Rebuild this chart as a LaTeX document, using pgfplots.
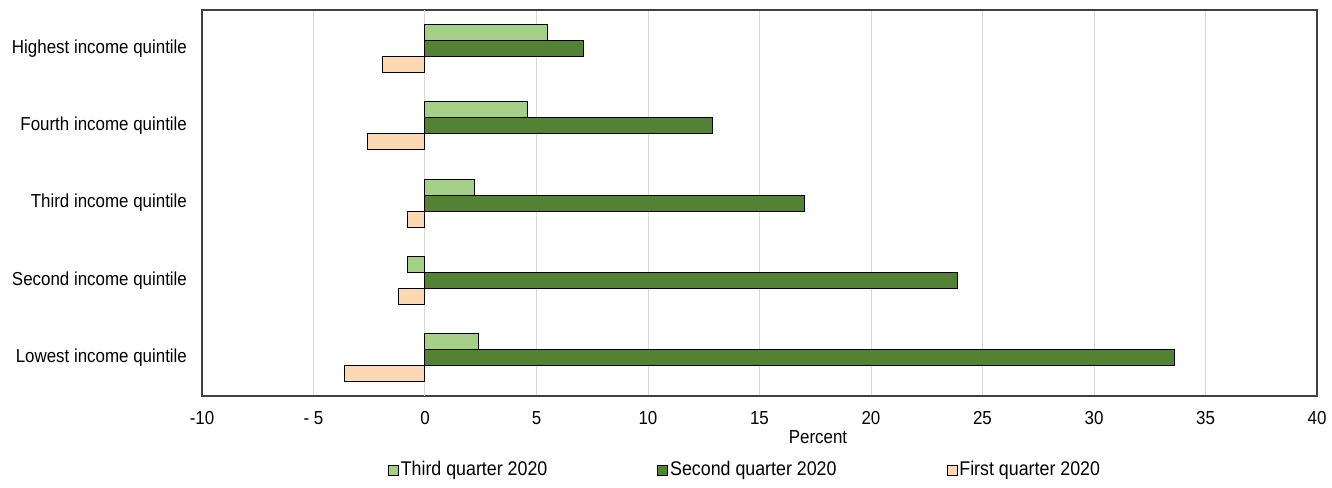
\documentclass[border=0pt]{standalone}
\usepackage{fontspec}
\setmainfont{Liberation Sans}[FakeStretch=0.9]
\usepackage{pgfplots}
\pgfplotsset{compat=1.18}
\definecolor{lg}{HTML}{A3CF86}
\definecolor{dg}{HTML}{548235}
\definecolor{pc}{HTML}{FBD9B3}
\definecolor{gridc}{HTML}{D9D9D9}
\definecolor{axc}{HTML}{404040}
\begin{document}
\begin{tikzpicture}[font=\fontsize{9.4}{11}\selectfont]
\useasboundingbox (-101pt,-45.5pt) rectangle (565pt,198pt);
\begin{axis}[
  at={(0,0)}, anchor=south west, scale only axis,
  width=557.5pt, height=193pt,
  xbar, bar width=8pt,
  xmin=-10, xmax=40, ymin=0.5, ymax=5.5,
  xtick={-10,-5,...,40},
  xticklabels={-10,- 5,0,5,10,15,20,25,30,35,40},
  ytick={1,2,3,4,5},
  yticklabels={Lowest income quintile,Second income quintile,Third income quintile,Fourth income quintile,Highest income quintile},
  /pgf/number format/assume math mode=true,
  xmajorgrids, major grid style={gridc, line width=0.5pt},
  extra x ticks={0}, extra x tick labels={},
  extra x tick style={grid style={black, line width=0.5pt}},
  major tick length=0pt,
  axis line style={axc, line width=0.75pt},
  xticklabel style={yshift=-4pt},
  yticklabel style={xshift=-4pt},
  xlabel=Percent,
  xlabel style={at={(axis description cs:0.5525,-0.106)}, anchor=center},
  legend columns=3,
  legend style={at={(axis description cs:0.487,-0.192)}, anchor=center, draw=none,
    font=\fontsize{9.9}{11}\selectfont,
    /tikz/every even column/.append style={column sep=54pt},
    nodes={inner sep=1pt}},
  legend image code/.code={\draw[#1,line width=0.4pt] (0pt,-2.5pt) rectangle (5pt,2.5pt);},
]
\addplot[fill=lg, draw=black, line width=0.5pt, bar shift=8pt]
  coordinates {(2.4,1) (-0.8,2) (2.2,3) (4.6,4) (5.5,5)};
\addplot[fill=dg, draw=black, line width=0.5pt, bar shift=0pt]
  coordinates {(33.6,1) (23.9,2) (17.0,3) (12.9,4) (7.1,5)};
\addplot[fill=pc, draw=black, line width=0.5pt, bar shift=-8pt]
  coordinates {(-3.6,1) (-1.2,2) (-0.8,3) (-2.6,4) (-1.9,5)};
\legend{Third quarter 2020,Second quarter 2020,First quarter 2020}
\end{axis}
\end{tikzpicture}
\end{document}
